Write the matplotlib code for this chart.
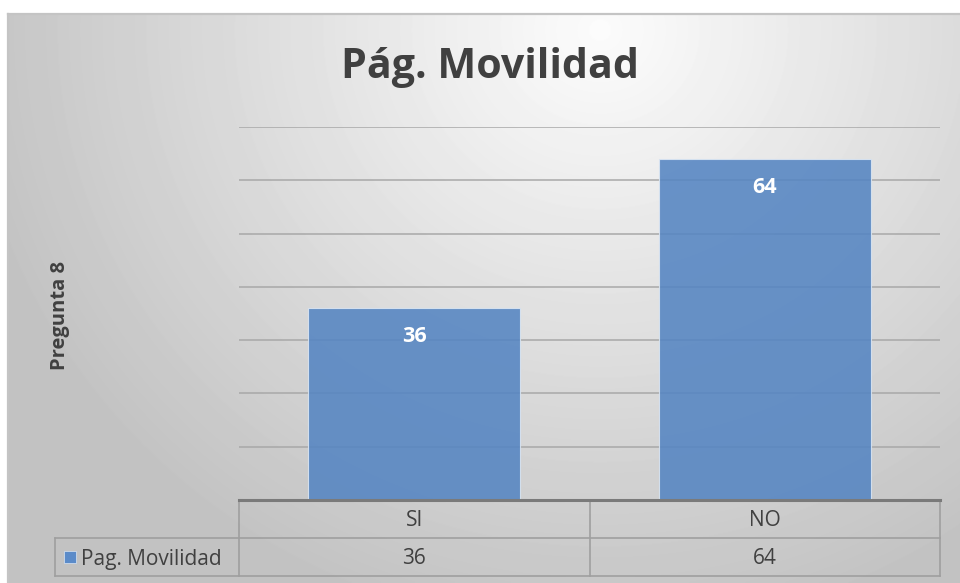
import numpy as np
import matplotlib.pyplot as plt
from matplotlib.patches import Rectangle

# Chart data
categories = ["SI", "NO"]
values = [36, 64]
series_name = "Pag. Movilidad"
title = "Pág. Movilidad"
ylabel = "Pregunta 8"

FONT = "Open Sans"
W, H = 960, 583
fig = plt.figure(figsize=(W / 100, H / 100), dpi=100)
fig.patch.set_facecolor("white")

# Background: chart area with a radial grey gradient
bg = fig.add_axes([8 / W, 0, (W - 8) / W, (H - 14) / H], zorder=-5)
yy, xx = np.mgrid[14:H, 8:W]
d = np.hypot(xx - 600, (yy - 30) * 1.05)
shade = np.clip(252 - 54 * d / 600, 195, 252) / 255
bg.imshow(shade, cmap="gray", vmin=0, vmax=1, aspect="auto",
          extent=[0, 1, 0, 1], interpolation="bilinear")
bg.set_axis_off()
# border of chart area
fig.add_artist(plt.Line2D([8 / W, 1], [1 - 14 / H, 1 - 14 / H], color="#c4c4c4", lw=1.6))
fig.add_artist(plt.Line2D([8 / W, 8 / W], [0, 1 - 14 / H], color="#c4c4c4", lw=1.6))

# Plot area in pixel bounds
left, right, top, bottom = 239, 940, 127, 500
ax = fig.add_axes([left / W, 1 - bottom / H, (right - left) / W, (bottom - top) / H])
ax.patch.set_alpha(0)
x = np.arange(len(categories))
ax.set_xlim(-0.5, len(categories) - 0.5)
ax.set_ylim(0, 70)
ax.set_yticks(np.arange(0, 71, 10))
ax.yaxis.grid(True, color="#a8a8a8", lw=1.1)
ax.set_axisbelow(True)
ax.tick_params(left=False, bottom=False, labelleft=False, labelbottom=False)
for s in ax.spines.values():
    s.set_visible(False)

bar_color = "#5585c2"
bars = ax.bar(x, values, width=0.605, color=bar_color, alpha=0.88,
              edgecolor="#dbe6f3", lw=0.8, zorder=3)
for xi, v in zip(x, values):
    ax.text(xi, v - 5.4, str(v), ha="center", va="center", color="white",
            fontsize=15.5, fontweight="bold", family=FONT, zorder=4)

fig.text(490 / W, 1 - 67 / H, title, ha="center", va="center",
         fontsize=29.6, fontweight="bold", color="#404040", family=FONT)
fig.text(60 / W, 1 - 315 / H, ylabel, ha="center", va="center", rotation=90,
         fontsize=14.5, fontweight="bold", color="#404040", family=FONT)

# Data table below the plot
ph = bottom - top
pw = right - left
row_h = 38 / ph
tcolor = "#9f9f9f"
tr = ax.transAxes
ax.plot([0, 1], [0, 0], color="#7a7a7a", lw=2.2, transform=tr, clip_on=False, zorder=5)
lab_left = (55 - left) / pw
# horizontal lines
ax.plot([0, 1], [-row_h, -row_h], color=tcolor, lw=1.2, transform=tr, clip_on=False)
ax.plot([lab_left, 0], [-row_h, -row_h], color=tcolor, lw=1.2, transform=tr, clip_on=False)
ax.plot([lab_left, 1], [-2 * row_h, -2 * row_h], color=tcolor, lw=1.2, transform=tr, clip_on=False)
# vertical lines
for xv in [0, 0.5, 1]:
    ax.plot([xv, xv], [0, -2 * row_h], color=tcolor, lw=1.2, transform=tr, clip_on=False)
ax.plot([lab_left, lab_left], [-row_h, -2 * row_h], color=tcolor, lw=1.2,
        transform=tr, clip_on=False)

n = len(categories)
off = 2 / ph
for i, (c, v) in enumerate(zip(categories, values)):
    cx = (i + 0.5) / n
    ax.text(cx, -row_h / 2 - off, c, ha="center", va="center", fontsize=15,
            color="#404040", family=FONT, transform=tr)
    ax.text(cx, -1.5 * row_h - off, str(v), ha="center", va="center", fontsize=15,
            color="#404040", family=FONT, transform=tr)

# legend key + series name
key_x = (64 - left) / pw
ax.add_patch(Rectangle((key_x, -1.5 * row_h - 0.017), 12 / pw, 12 / ph,
                       transform=tr, clip_on=False, facecolor="#5b8bc9",
                       edgecolor="#dbe6f3", lw=0.5))
ax.text((81 - left) / pw, -1.5 * row_h - off, series_name, ha="left", va="center",
        fontsize=15, color="#404040", family=FONT, transform=tr)

fig.savefig("out.png", dpi=100)
